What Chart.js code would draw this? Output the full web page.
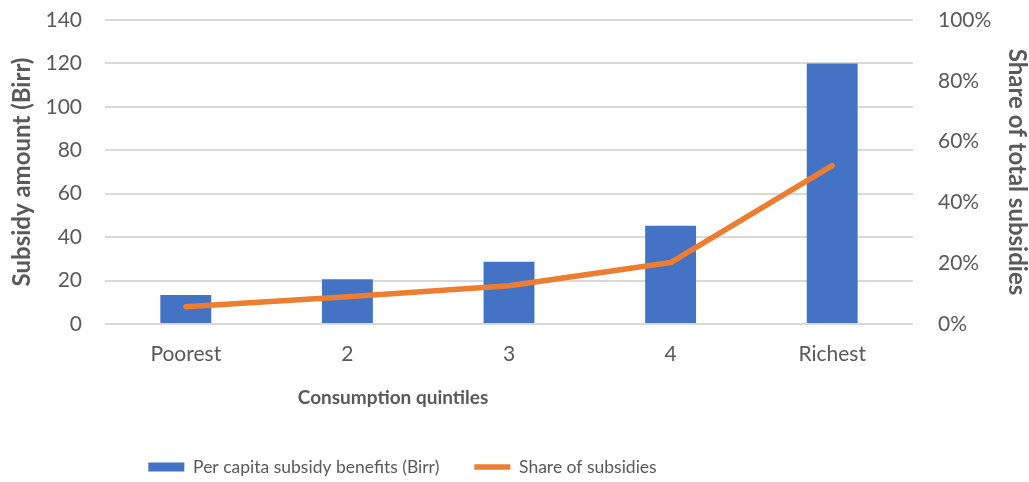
<!DOCTYPE html>
<html>
<head>
<meta charset="utf-8">
<script src="https://cdn.jsdelivr.net/npm/chart.js@4.4.0/dist/chart.umd.min.js"></script>
<style>
  html, body { margin: 0; padding: 0; background: #fff; }
  #wrap { width: 1029px; height: 482px; }
</style>
</head>
<body>
<div id="wrap"><canvas id="chart" width="1029" height="482"></canvas></div>
<script>
// quintile labels and values
const quintiles = ['Poorest', '2', '3', '4', 'Richest'];
const perCapitaBirr = [13.4, 20.6, 28.7, 45.3, 120];
const shareOfSubsidies = [0.057, 0.09, 0.126, 0.202, 0.521];

const blue = '#4472C4';
const orange = '#ED7D31';
const grey = '#595959';
const fontName = 'Lato, "Liberation Sans", sans-serif';

// excel put the x title and legend left of centre, so move them after layout
const nudgeBoxes = {
  id: 'nudgeBoxes',
  afterLayout(chart) {
    const x = chart.scales.x;
    if (!x._origDrawTitle) {
      x._origDrawTitle = x.drawTitle;
      x.drawTitle = function () {
        const r = this.right;
        this.right = 2 * 393 - this.left;
        this._origDrawTitle();
        this.right = r;
      };
    }
    const lg = chart.legend;
    lg.left = 0;
    lg.right = 805;
    lg.top = 467 - 35 - 17.5 / 2;
  }
};

const ctx = document.getElementById('chart').getContext('2d');
const chart = new Chart(ctx, {
  data: {
    labels: quintiles,
    datasets: [
      {
        type: 'line',
        label: 'Share of subsidies',
        data: shareOfSubsidies,
        yAxisID: 'y2',
        borderColor: orange,
        backgroundColor: orange,
        borderWidth: 5.5,
        borderCapStyle: 'round',
        borderJoinStyle: 'round',
        pointRadius: 0,
        pointStyle: 'line',
        tension: 0,
        order: 0
      },
      {
        type: 'bar',
        label: 'Per capita subsidy benefits (Birr)',
        data: perCapitaBirr,
        yAxisID: 'y',
        backgroundColor: blue,
        pointStyle: 'rect',
        categoryPercentage: 1,
        barPercentage: 0.315,
        order: 1
      }
    ]
  },
  plugins: [nudgeBoxes],
  options: {
    responsive: false,
    animation: false,
    layout: { padding: { top: 20, bottom: 0, left: 0, right: 0 } },
    plugins: {
      legend: {
        position: 'bottom',
        reverse: true,
        labels: {
          usePointStyle: true,
          pointStyleWidth: 36,
          boxHeight: 9,
          padding: 35,
          color: grey,
          font: { family: fontName, size: 17.5 }
        }
      },
      tooltip: { enabled: false }
    },
    scales: {
      x: {
        grid: { display: false, drawTicks: false },
        border: { display: false },
        ticks: { color: grey, font: { family: fontName, size: 21 }, padding: 18 },
        title: {
          display: true,
          text: 'Consumption quintiles',
          color: grey,
          font: { family: fontName, size: 19, weight: 'bold', lineHeight: 1 },
          padding: { top: 0, bottom: 12 }
        },
        afterFit: (scale) => { scale.height = 482 - 324 - scale.chart.legend.height; }
      },
      y: {
        position: 'left',
        min: 0,
        max: 140,
        ticks: { stepSize: 20, color: grey, font: { family: fontName, size: 21 }, padding: 23 },
        grid: { color: '#D9D9D9', lineWidth: 2, drawTicks: false },
        border: { display: false },
        title: {
          display: true,
          text: 'Subsidy amount (Birr)',
          color: grey,
          font: { family: fontName, size: 24, weight: 'bold', lineHeight: 1 },
          padding: { top: 10, bottom: 0 }
        },
        afterFit: (scale) => {
          scale.width = 105;
          scale.paddingTop = 0;
          scale.paddingBottom = 0;
        }
      },
      y2: {
        position: 'right',
        min: 0,
        max: 1,
        ticks: {
          stepSize: 0.2,
          color: grey,
          font: { family: fontName, size: 21 },
          padding: 25,
          callback: (v) => Math.round(v * 100) + '%'
        },
        grid: { display: false, drawTicks: false },
        border: { display: false },
        title: {
          display: true,
          text: 'Share of total subsidies',
          color: grey,
          font: { family: fontName, size: 24, weight: 'bold', lineHeight: 1 },
          padding: { top: 0, bottom: 0 }
        },
        afterFit: (scale) => {
          scale.width = 116;
          scale.paddingTop = 0;
          scale.paddingBottom = 0;
        }
      }
    }
  }
});
</script>
</body>
</html>
